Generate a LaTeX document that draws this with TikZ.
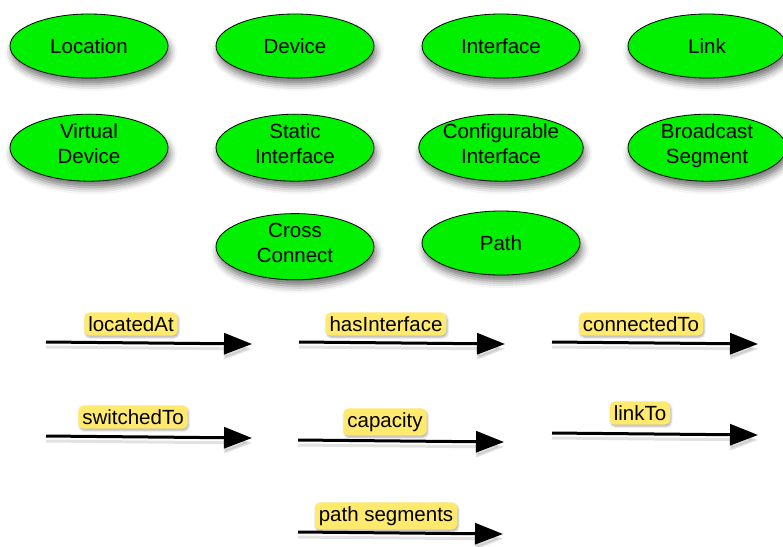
\documentclass[tikz,border=0pt]{standalone}
\usepackage{fontspec}
\setmainfont{Liberation Sans}
\usetikzlibrary{shapes.geometric,arrows.meta,shadows.blur}
\definecolor{nodegreen}{RGB}{0,240,0}
\definecolor{tagyellow}{RGB}{255,234,110}
\tikzset{
  concept/.style={ellipse,draw=black,line width=0.8pt,fill=nodegreen,
    minimum width=158pt,minimum height=64pt,inner sep=0pt,align=center,
    font=\fontsize{20.5}{25}\selectfont,
    blur shadow={shadow xshift=2pt,shadow yshift=-6pt,shadow blur radius=7pt,shadow opacity=55}},
  % two-line nodes: a strut on the last line keeps the text centred alike
  concepttwo/.style={concept,yshift=-3.7pt},
  relation/.style={line width=3pt,-{Triangle[length=28pt,width=21pt]},
    preaction={draw=black!45,line width=3pt,transform canvas={yshift=-5pt},opacity=0.25}},
  tag/.style={fill=tagyellow,rounded corners=5pt,inner xsep=4pt,inner ysep=4pt,
    font=\fontsize{20.5}{23}\selectfont,
    blur shadow={shadow xshift=1pt,shadow yshift=-2pt,shadow blur radius=2pt,shadow opacity=30}}
}
\begin{document}
\begin{tikzpicture}[x=1pt,y=-1pt]
\useasboundingbox (0,0) rectangle (783,546);

% class nodes
\node[concept] (loc)  at (89,46)  {Location};
\node[concept] (dev)  at (295,46) {Device};
\node[concept] (ifc)  at (501,46) {Interface};
\node[concept] (lnk)  at (707,46) {Link};
\node[concepttwo] (vdev) at (89,144)  {Virtual\\Device\strut};
\node[concepttwo] (sifc) at (295,144) {Static\\Interface\strut};
\node[concepttwo] (cifc) at (501,144) {Configurable\\Interface\strut};
\node[concepttwo] (bseg) at (707,144) {Broadcast\\Segment\strut};
\node[concepttwo] (xcon) at (295,243) {Cross\\Connect\strut};
\node[concept] (path) at (501,243) {Path};

% relation arrows
\coordinate (r1a) at (46,342);  \coordinate (r1b) at (252,344);
\coordinate (r2a) at (299,342); \coordinate (r2b) at (505,344);
\coordinate (r3a) at (552,342); \coordinate (r3b) at (758,344);
\coordinate (r4a) at (46,436);  \coordinate (r4b) at (252,438);
\coordinate (r5a) at (298,440); \coordinate (r5b) at (504,442);
\coordinate (r6a) at (552,433); \coordinate (r6b) at (758,435);
\coordinate (r7a) at (298,532); \coordinate (r7b) at (503,534);
\draw[relation] (r1a) -- (r1b);
\draw[relation] (r2a) -- (r2b);
\draw[relation] (r3a) -- (r3b);
\draw[relation] (r4a) -- (r4b);
\draw[relation] (r5a) -- (r5b);
\draw[relation] (r6a) -- (r6b);
\draw[relation] (r7a) -- (r7b);

% relation labels
\node[tag] (t1) at (131,324) {locatedAt};
\node[tag] (t2) at (386,324) {hasInterface};
\node[tag] (t3) at (641,324) {connectedTo};
\node[tag] (t4) at (133,417) {switchedTo};
\node[tag] (t5) at (385,422) {capacity};
\node[tag] (t6) at (640,413) {linkTo};
\node[tag] (t7) at (386,516) {path segments};
\end{tikzpicture}
\end{document}
